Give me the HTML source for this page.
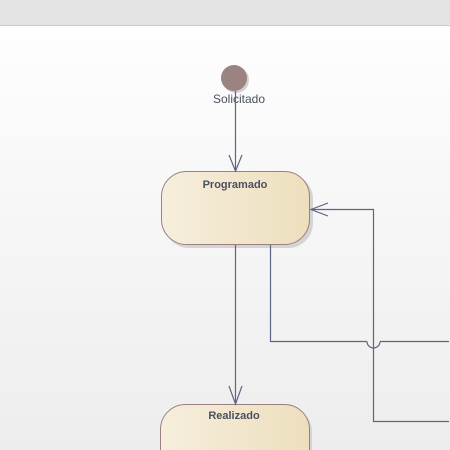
<!DOCTYPE html>
<html><head><style>
html,body{margin:0;width:450px;height:450px;overflow:hidden;font-family:"Liberation Sans",sans-serif}
svg{display:block}
</style></head><body>
<svg width="450" height="450" xmlns="http://www.w3.org/2000/svg">
<defs>
<linearGradient id="bg" x1="0" y1="0" x2="0" y2="1"><stop offset="0" stop-color="#ffffff"/><stop offset="1" stop-color="#eeeded"/></linearGradient>
<linearGradient id="nd" x1="0" y1="0" x2="1" y2="0"><stop offset="0" stop-color="#f6eedd"/><stop offset="1" stop-color="#eddfbd"/></linearGradient>
</defs>
<rect x="0" y="0" width="450" height="450" fill="url(#bg)"/>
<rect x="0" y="0" width="450" height="25" fill="#e4e4e4"/>
<line x1="0" y1="25.5" x2="450" y2="25.5" stroke="#cccccc"/>
<circle cx="236" cy="80" r="13" fill="#d0d0d0"/>
<circle cx="234" cy="78" r="13" fill="#9b8382"/>
<text x="239" y="103" font-size="12" fill="#4a5060" text-anchor="middle">Solicitado</text>
<rect x="164" y="174" width="149" height="74" rx="25" fill="#d4d4d4"/>
<rect x="161.5" y="171.5" width="148" height="73" rx="25" fill="url(#nd)" stroke="#9a8080"/>
<text x="235" y="188" font-size="11" font-weight="bold" fill="#4a5060" text-anchor="middle">Programado</text>
<path d="M163,450 V432 A25,25 0 0 1 188,407 H287 A25,25 0 0 1 312,432 V450 Z" fill="#d4d4d4"/>
<path d="M160.5,450 V429.5 A25,25 0 0 1 185.5,404.5 H284.5 A25,25 0 0 1 309.5,429.5 V450" fill="url(#nd)" stroke="#9a8080"/>
<text x="234" y="419" font-size="11" font-weight="bold" fill="#4a5060" text-anchor="middle">Realizado</text>
<g stroke="#5d6585" stroke-width="1.2" fill="none">
<line x1="235.5" y1="91" x2="235.5" y2="171"/>
<polyline points="229,155 235.5,171 242,155"/>
<line x1="235.5" y1="245" x2="235.5" y2="404"/>
<polyline points="229,386 235.5,404 242,386"/>
<polyline points="270.5,245 270.5,341.5 367,341.5"/>
<path d="M367,341.5 A6.5,6.5 0 0 0 380,341.5"/>
<line x1="380" y1="341.5" x2="449" y2="341.5"/>
<polyline points="449,421.5 373.5,421.5 373.5,209.5 311,209.5"/>
<polyline points="328,203 311,209.5 328,216"/>
</g>
</svg>
</body></html>
